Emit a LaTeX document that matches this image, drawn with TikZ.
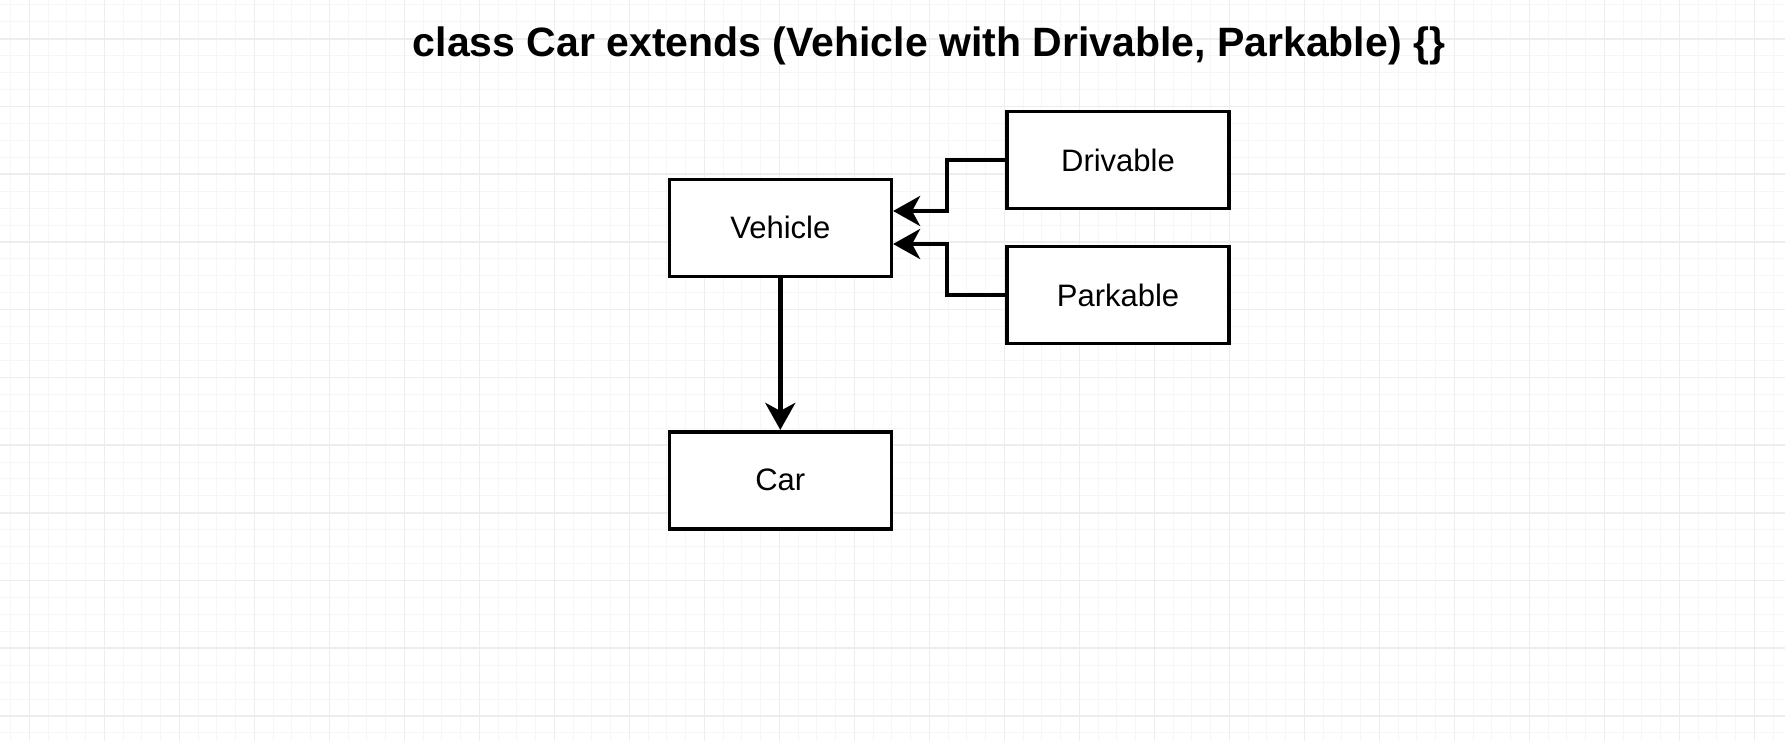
\documentclass[tikz,border=0pt]{standalone}
\usepackage{fontspec}
\setmainfont{Liberation Sans}
\usetikzlibrary{arrows.meta}
\begin{document}
\begin{tikzpicture}[x=1pt,y=-1pt,
  box/.style={draw=black, line width=3.6pt, fill=white, minimum width=222pt, minimum height=97pt, inner sep=0pt, font=\fontsize{31}{36}\selectfont},
  conn/.style={line width=4.4pt, -{Stealth[length=27pt,width=30pt,inset=8pt]}},
  minorgrid/.style={line width=1pt, draw=black!3.5},
  majorgrid/.style={line width=1.6pt, draw=black!7},
  titlestyle/.style={font=\bfseries\fontsize{41}{48}\selectfont, anchor=base, inner sep=0pt}]
\fill[white] (0,0) rectangle (1785,741);
\useasboundingbox (0,0) rectangle (1785,741);
\begin{scope}
\clip (0,0) rectangle (1785,741);
\foreach \i in {0,...,94} { \draw[minorgrid] ({10.55+18.75*\i},0) -- ++(0,741); }
\foreach \i in {0,...,43} { \draw[minorgrid] (0,{4.94+16.93*\i}) -- ++(1785,0); }
\foreach \i in {0,...,23} { \draw[majorgrid] ({29.3+75*\i},0) -- ++(0,741); }
\foreach \i in {0,...,10} { \draw[majorgrid] (0,{38.8+67.7*\i}) -- ++(1785,0); }
\end{scope}
\node[titlestyle] (title) at (929,57) {class Car extends (Vehicle with Drivable, Parkable) \{\}};
\node[box] (veh) at (780.3,227.8) {Vehicle};
\node[box] (drv) at (1118,160) {Drivable};
\node[box] (prk) at (1118,295) {Parkable};
\node[box] (car) at (780.3,480.2) {Car};
\coordinate (elbD) at (947,211);
\coordinate (elbP) at (947,244);
\draw[conn] (drv.west) -| (elbD) -- ([yshift=16.8pt]veh.east);
\draw[conn] (prk.west) -| (elbP) -- ([yshift=-16.2pt]veh.east);
\draw[conn] (veh.south) -- (car.north);
\end{tikzpicture}
\end{document}
